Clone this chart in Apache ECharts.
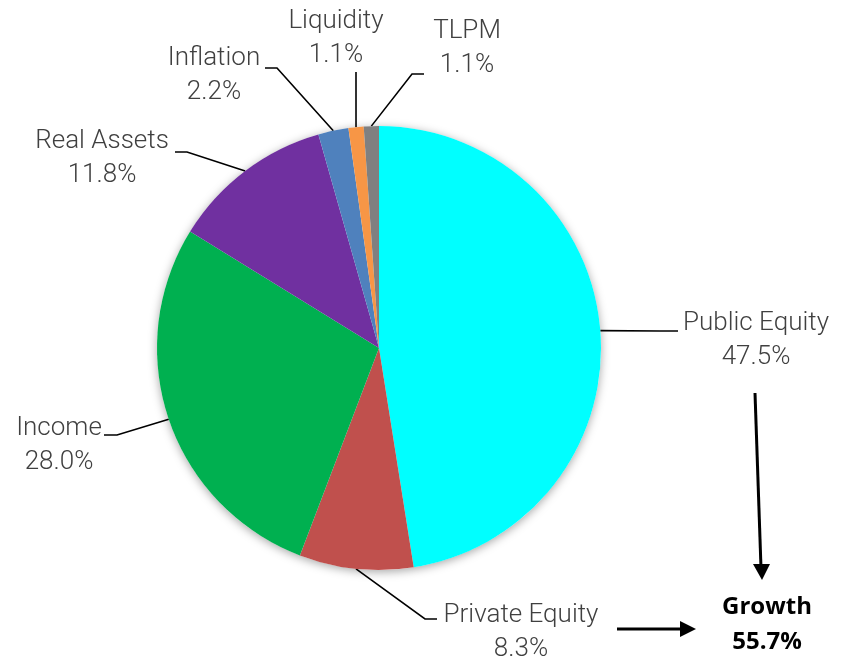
<!DOCTYPE html>
<html>
<head>
<meta charset="utf-8">
<script src="https://cdn.jsdelivr.net/npm/echarts@6/dist/echarts.min.js"></script>
<style>
html,body{margin:0;padding:0;background:#fff;}
#main{width:849px;height:663px;}
</style>
</head>
<body>
<div id="main"></div>
<script>
// ---- data ----
const categories = ['Public Equity', 'Private Equity', 'Income', 'Real Assets', 'Inflation', 'Liquidity', 'TLPM'];
const values = [47.5, 8.3, 28.0, 11.8, 2.2, 1.1, 1.1];
const growthLabel = 'Growth';
const growthValue = '55.7%';

// ---- styles / layout ----
const colors = ['#00FFFF', '#C0504D', '#00B050', '#7030A0', '#4F81BD', '#F79646', '#808080'];
const CX = 379, CY = 348, R = 222;
const labelPos = [
  {x: 756, y: 340, pts: [[660, 331], [678, 331]]},
  {x: 521, y: 632, pts: [[425, 619], [437, 619]]},
  {x: 59,  y: 445, pts: [[117, 435], [104, 435]]},
  {x: 102, y: 158, pts: [[187, 152], [175, 152]]},
  {x: 214, y: 75,  pts: [[277, 68], [265, 68]]},
  {x: 336, y: 38,  pts: [[356, 90], [356, 72]]},
  {x: 467, y: 48,  pts: [[412, 74], [424, 74]]}
];

const total = values.reduce((a, b) => a + b, 0);
function edgePoint(i) {
  let before = 0;
  for (let k = 0; k < i; k++) before += values[k];
  const frac = (before + values[i] / 2) / total;
  const ang = frac * 2 * Math.PI;
  return [CX + R * Math.sin(ang), CY - R * Math.cos(ang)];
}

const chart = echarts.init(document.getElementById('main'), null, {renderer: 'canvas'});
const labelFont = {fontFamily: 'Roboto', fontWeight: 300, fontSize: 26, color: '#404040', lineHeight: 34};

chart.setOption({
  animation: false,
  backgroundColor: '#ffffff',
  series: [
    {
      type: 'pie',
      silent: true,
      center: [CX, CY],
      radius: R,
      z: 1,
      label: {show: false},
      labelLine: {show: false},
      itemStyle: {color: '#ffffff', shadowBlur: 10, shadowColor: 'rgba(0,0,0,0.35)', shadowOffsetY: 2},
      data: [{value: 1, name: ''}]
    },
    {
      type: 'pie',
      silent: true,
      z: 2,
      center: [CX, CY],
      radius: R,
      startAngle: 90,
      clockwise: true,
      avoidLabelOverlap: false,
      itemStyle: {borderWidth: 0},
      label: Object.assign({
        show: true,
        position: 'outside',
        align: 'center',
        formatter: function (p) { return p.name + '\n' + p.value.toFixed(1) + '%'; }
      }, labelFont),
      labelLine: {show: true, length: 20, length2: 10, lineStyle: {color: '#000000', width: 1.6}},
      labelLayout: function (params) {
        const lp = labelPos[params.dataIndex];
        return {
          x: lp.x,
          y: lp.y,
          align: 'center',
          verticalAlign: 'middle',
          labelLinePoints: [edgePoint(params.dataIndex), lp.pts[0], lp.pts[1]]
        };
      },
      data: categories.map((c, i) => ({name: c, value: values[i], itemStyle: {color: colors[i]}}))
    }
  ],
  graphic: [
    {type: 'line', shape: {x1: 755, y1: 393, x2: 761, y2: 568}, style: {stroke: '#000', lineWidth: 3}},
    {type: 'polygon', shape: {points: [[753, 564], [770, 564], [762, 580]]}, style: {fill: '#000'}},
    {type: 'line', shape: {x1: 617, y1: 629, x2: 684, y2: 629}, style: {stroke: '#000', lineWidth: 3}},
    {type: 'polygon', shape: {points: [[680, 621], [680, 637], [696, 629]]}, style: {fill: '#000'}},
    {type: 'text', x: 767, y: 625, style: {
      text: growthLabel + '\n' + growthValue, fill: '#000', font: 'bold 24px "Open Sans"',
      align: 'center', verticalAlign: 'middle', lineHeight: 35
    }}
  ]
});
</script>
</body>
</html>
